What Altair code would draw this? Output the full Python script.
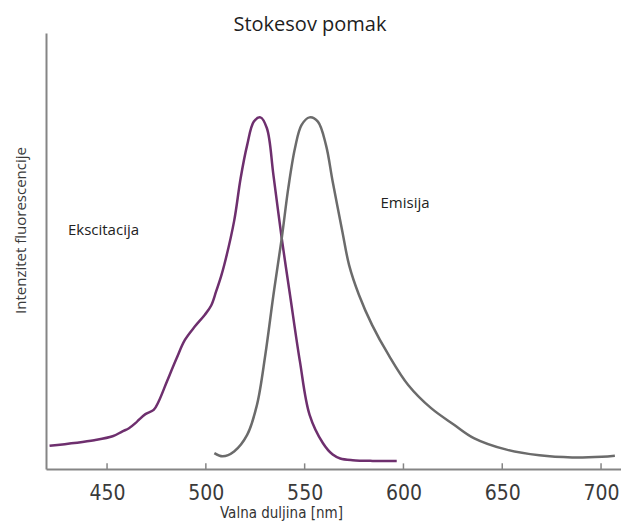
import altair as alt
import pandas as pd

# Excitation spectrum (wavelength nm, relative intensity)
exc_nm = [420.9, 443.5, 452.8, 457.8, 461.1, 464.5, 466.1, 469.4, 473.6, 476.1, 480.3, 485.2,
          489.4, 494.4, 499.4, 502.7, 505.2, 507.7, 509.3, 514.3, 517.6, 520.9, 524.3, 527.6,
          530.9, 534.2, 538.4, 542.6, 547.6, 552.5, 559.2, 564.2, 568.0, 574.3, 584.4, 596.6]
exc_v = [6.6, 8.2, 9.3, 10.7, 11.6, 13.1, 14.0, 15.6, 16.8, 19.2, 24.9, 31.5,
         36.7, 40.5, 43.8, 46.5, 50.5, 54.8, 58.0, 70.5, 82.7, 92.1, 98.8, 100.0,
         96.9, 83.6, 65.6, 49.5, 30.6, 15.4, 7.4, 4.1, 3.0, 2.5, 2.3, 2.3]

# Emission spectrum
em_nm = [504.3, 508.5, 514.3, 520.9, 525.9, 530.1, 534.2, 538.4, 541.7, 545.1, 548.4, 552.5,
         556.7, 560.8, 564.2, 569.1, 572.5, 577.5, 584.1, 592.4, 602.4, 614.0, 625.6, 635.6,
         652.2, 668.8, 685.4, 700.4, 707.0]
em_v = [4.5, 3.6, 5.0, 9.7, 18.3, 32.5, 49.5, 65.6, 79.8, 91.2, 97.8, 100.0,
        98.8, 92.1, 81.7, 67.5, 58.0, 49.5, 41.0, 32.5, 23.9, 17.3, 12.6, 8.8,
        5.5, 3.9, 3.3, 3.5, 3.8]

tick_vals = [450, 500, 550, 600, 650, 700]

labels_text = ["Ekscitacija", "Emisija"]
labels_nm = [430.2, 588.4]
labels_v = [66.6, 74.2]

title_text = ["Stokesov pomak"]
title_nm = [552.7]
title_v = [124.6]

series_names = ["Ekscitacija", "Emisija"]
series_colors = ["#6e2f6e", "#6b6b6b"]

df = pd.concat([
    pd.DataFrame({"nm": exc_nm, "v": exc_v, "s": "Ekscitacija"}),
    pd.DataFrame({"nm": em_nm, "v": em_v, "s": "Emisija"}),
])
ticks_df = pd.DataFrame({"nm": tick_vals, "y0": [0] * len(tick_vals), "y1": [1.6] * len(tick_vals)})
lab_df = pd.DataFrame({"nm": labels_nm, "v": labels_v, "t": labels_text})
title_df = pd.DataFrame({"nm": title_nm, "v": title_v, "t": title_text})

x_scale = alt.Scale(domain=[419.1, 710.1], nice=False, zero=False)
y_scale = alt.Scale(domain=[0, 124], nice=False)

x_axis = alt.Axis(
    values=tick_vals, ticks=False, tickSize=0, grid=False,
    labelFont="DejaVu Sans Condensed", labelFontSize=21, labelColor="#3a3a3a",
    labelBaseline="alphabetic", labelPadding=30,
    domainColor="#858585", domainWidth=2,
    title="Valna duljina [nm]", titleFont="DejaVu Sans Condensed", titleFontSize=15,
    titleFontWeight="normal", titleColor="#333333",
    titleX=235, titleY=48, titleAlign="center", titleBaseline="alphabetic",
)
y_axis = alt.Axis(
    labels=False, ticks=False, grid=False,
    domainColor="#858585", domainWidth=2,
    title="Intenzitet fluorescencije", titleFont="Open Sans", titleFontSize=15,
    titleFontWeight="normal", titleColor="#3a3a3a",
    titleX=-26, titleY=197, titleAngle=270, titleAlign="center", titleBaseline="middle",
)

lines = alt.Chart(df).mark_line(strokeWidth=2.5, interpolate="catmull-rom").encode(
    x=alt.X("nm:Q", scale=x_scale, axis=x_axis),
    y=alt.Y("v:Q", scale=y_scale, axis=y_axis),
    color=alt.Color("s:N", scale=alt.Scale(domain=series_names, range=series_colors), legend=None),
    detail="s:N",
)

tick_marks = alt.Chart(ticks_df).mark_rule(color="#858585", strokeWidth=1.5).encode(
    x=alt.X("nm:Q", scale=x_scale),
    y=alt.Y("y0:Q", scale=y_scale),
    y2="y1:Q",
)

texts = alt.Chart(lab_df).mark_text(
    align="left", baseline="alphabetic", font="Open Sans", fontSize=15, color="#222222"
).encode(
    x=alt.X("nm:Q", scale=x_scale),
    y=alt.Y("v:Q", scale=y_scale),
    text="t:N",
)

title_mark = alt.Chart(title_df).mark_text(
    align="center", baseline="alphabetic", font="Open Sans", fontSize=20, color="#1e1e1e"
).encode(
    x=alt.X("nm:Q", scale=x_scale),
    y=alt.Y("v:Q", scale=y_scale),
    text="t:N",
)

chart = alt.layer(tick_marks, lines, texts, title_mark).properties(
    width=575, height=436,
    autosize=alt.AutoSizeParams(type="none"),
    padding={"left": 38, "top": 25, "right": 0, "bottom": 52},
).configure(background="white").configure_view(stroke=None)

chart.save("out.html", embed_options={"renderer": "svg", "actions": False})
